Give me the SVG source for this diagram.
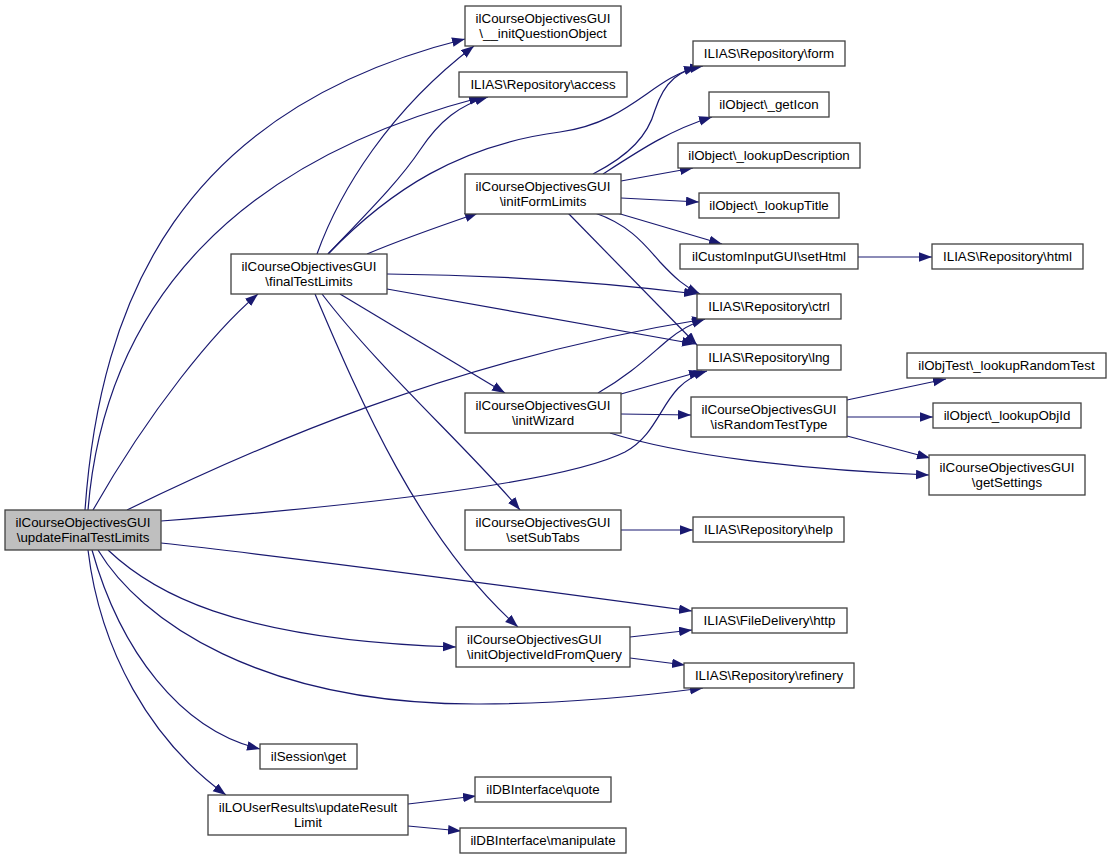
<svg xmlns="http://www.w3.org/2000/svg" width="1112" height="859" viewBox="0 0 1112 859">
<defs>
<marker id="arr" markerUnits="userSpaceOnUse" markerWidth="13" markerHeight="10" refX="13" refY="4.75" orient="auto">
<path d="M0,0 L13,4.75 L0,9.5 z" fill="#191970"/>
</marker>
<style>
.e{fill:none;stroke:#191970;stroke-width:1.2;marker-end:url(#arr)}
.n{fill:#ffffff;stroke:#404040;stroke-width:1.3}
.s{fill:#bfbfbf;stroke:#404040;stroke-width:1.3}
text{font-family:"Liberation Sans",Arial,sans-serif;font-size:13.33px;fill:#000;text-anchor:middle}
text.l{text-anchor:start}
</style>
</defs>
<rect x="0" y="0" width="1112" height="859" fill="#ffffff"/>
<g id="edges">
<path class="e" d="M85,510 C100,300 180,110 465,39"/>
<path class="e" d="M88,510 C105,300 240,160 482,97"/>
<path class="e" d="M93,510 C150,410 215,330 258,294"/>
<path class="e" d="M127,510 C250,450 450,360 705,319"/>
<path class="e" d="M161,521 C330,508 560,485 625,452 C665,430 660,385 707,371"/>
<path class="e" d="M161,543 C300,558 500,585 692,611"/>
<path class="e" d="M108,550 C150,590 230,640 456,647"/>
<path class="e" d="M98,550 C140,620 260,705 480,704 C570,704 650,695 703,688"/>
<path class="e" d="M92,550 C120,650 180,730 260,749"/>
<path class="e" d="M88,550 C100,650 150,740 226,795"/>
<path class="e" d="M317,254 C340,190 390,110 474,46"/>
<path class="e" d="M328,254 C370,210 400,180 420,150 C440,120 460,105 488,97"/>
<path class="e" d="M328,254 C390,190 460,145 560,132 C630,122 650,80 697,67"/>
<path class="e" d="M367,254 C400,240 440,226 478,213"/>
<path class="e" d="M387,274 C500,275 600,282 697,294"/>
<path class="e" d="M387,289 L695,344"/>
<path class="e" d="M340,294 L505,393"/>
<path class="e" d="M322,294 C380,370 470,450 520,510"/>
<path class="e" d="M315,294 C360,400 420,540 518,627"/>
<path class="e" d="M593,174 C630,155 648,135 655,110 C665,80 680,70 703,66"/>
<path class="e" d="M603,174 C640,150 670,130 712,117"/>
<path class="e" d="M621,181 L693,168"/>
<path class="e" d="M621,198 L699,202"/>
<path class="e" d="M617,213 L722,244"/>
<path class="e" d="M595,213 C630,225 645,245 660,262 C675,278 685,287 700,294"/>
<path class="e" d="M568,213 L697,345"/>
<path class="e" d="M858,257 L932,257"/>
<path class="e" d="M598,393 C630,375 650,355 668,340 C680,330 690,324 705,319"/>
<path class="e" d="M621,394 L702,371"/>
<path class="e" d="M621,414 L691,415"/>
<path class="e" d="M610,433 C680,455 800,470 929,475"/>
<path class="e" d="M847,400 L946,379"/>
<path class="e" d="M847,417 L933,417"/>
<path class="e" d="M847,436 L930,458"/>
<path class="e" d="M621,530 L693,530"/>
<path class="e" d="M630,637 L692,630"/>
<path class="e" d="M630,658 L685,665"/>
<path class="e" d="M408,804 L476,796"/>
<path class="e" d="M408,826 L461,831"/>
</g>
<g id="node-updateFinalTestLimits"><rect class="s" x="5" y="510" width="156" height="40"/><text x="83" y="527">ilCourseObjectivesGUI</text><text x="83" y="542">\updateFinalTestLimits</text></g>
<g id="node-finalTestLimits"><rect class="n" x="231" y="254" width="156" height="40"/><text x="309" y="271">ilCourseObjectivesGUI</text><text x="309" y="286">\finalTestLimits</text></g>
<g id="node-initQuestionObject"><rect class="n" x="465" y="6" width="156" height="40"/><text x="543" y="23">ilCourseObjectivesGUI</text><text x="543" y="38">\__initQuestionObject</text></g>
<g id="node-access"><rect class="n" x="459" y="72" width="168" height="25"/><text x="543" y="88.5">ILIAS\Repository\access</text></g>
<g id="node-initFormLimits"><rect class="n" x="465" y="174" width="156" height="40"/><text x="543" y="191">ilCourseObjectivesGUI</text><text x="543" y="206">\initFormLimits</text></g>
<g id="node-form"><rect class="n" x="693" y="41" width="152" height="25"/><text x="769" y="57.5">ILIAS\Repository\form</text></g>
<g id="node-getIcon"><rect class="n" x="709" y="92" width="120" height="25"/><text x="769" y="108.5">ilObject\_getIcon</text></g>
<g id="node-lookupDescription"><rect class="n" x="678" y="143" width="182" height="25"/><text x="769" y="159.5">ilObject\_lookupDescription</text></g>
<g id="node-lookupTitle"><rect class="n" x="699" y="193" width="140" height="25"/><text x="769" y="209.5">ilObject\_lookupTitle</text></g>
<g id="node-setHtml"><rect class="n" x="680" y="244" width="178" height="25"/><text x="769" y="260.5">ilCustomInputGUI\setHtml</text></g>
<g id="node-html"><rect class="n" x="932" y="244" width="151" height="25"/><text x="1007.5" y="260.5">ILIAS\Repository\html</text></g>
<g id="node-ctrl"><rect class="n" x="697" y="294" width="144" height="25"/><text x="769" y="310.5">ILIAS\Repository\ctrl</text></g>
<g id="node-lng"><rect class="n" x="697" y="345" width="144" height="25"/><text x="769" y="361.5">ILIAS\Repository\lng</text></g>
<g id="node-lookupRandomTest"><rect class="n" x="907" y="353" width="199" height="25"/><text x="1006.5" y="369.5">ilObjTest\_lookupRandomTest</text></g>
<g id="node-isRandomTestType"><rect class="n" x="691" y="397" width="156" height="40"/><text x="769" y="414">ilCourseObjectivesGUI</text><text x="769" y="429">\isRandomTestType</text></g>
<g id="node-lookupObjId"><rect class="n" x="933" y="403" width="148" height="25"/><text x="1007" y="419.5">ilObject\_lookupObjId</text></g>
<g id="node-getSettings"><rect class="n" x="929" y="455" width="156" height="40"/><text x="1007" y="472">ilCourseObjectivesGUI</text><text x="1007" y="487">\getSettings</text></g>
<g id="node-initWizard"><rect class="n" x="465" y="393" width="156" height="40"/><text x="543" y="410">ilCourseObjectivesGUI</text><text x="543" y="425">\initWizard</text></g>
<g id="node-setSubTabs"><rect class="n" x="465" y="510" width="156" height="40"/><text x="543" y="527">ilCourseObjectivesGUI</text><text x="543" y="542">\setSubTabs</text></g>
<g id="node-help"><rect class="n" x="693" y="517" width="151" height="25"/><text x="768.5" y="533.5">ILIAS\Repository\help</text></g>
<g id="node-http"><rect class="n" x="692" y="608" width="155" height="25"/><text x="769.5" y="624.5">ILIAS\FileDelivery\http</text></g>
<g id="node-initObjectiveIdFromQuery"><rect class="n" x="456" y="627" width="174" height="40"/><text class="l" x="467" y="644">ilCourseObjectivesGUI</text><text class="l" x="467" y="659">\initObjectiveIdFromQuery</text></g>
<g id="node-refinery"><rect class="n" x="684" y="663" width="170" height="25"/><text x="769" y="679.5">ILIAS\Repository\refinery</text></g>
<g id="node-sessionGet"><rect class="n" x="260" y="744" width="97" height="25"/><text x="308.5" y="760.5">ilSession\get</text></g>
<g id="node-updateResultLimit"><rect class="n" x="208" y="795" width="200" height="40"/><text x="308" y="812">ilLOUserResults\updateResult</text><text x="308" y="827">Limit</text></g>
<g id="node-quote"><rect class="n" x="475" y="777" width="136" height="25"/><text x="543" y="793.5">ilDBInterface\quote</text></g>
<g id="node-manipulate"><rect class="n" x="460" y="828" width="166" height="25"/><text x="543" y="844.5">ilDBInterface\manipulate</text></g>
</svg>
